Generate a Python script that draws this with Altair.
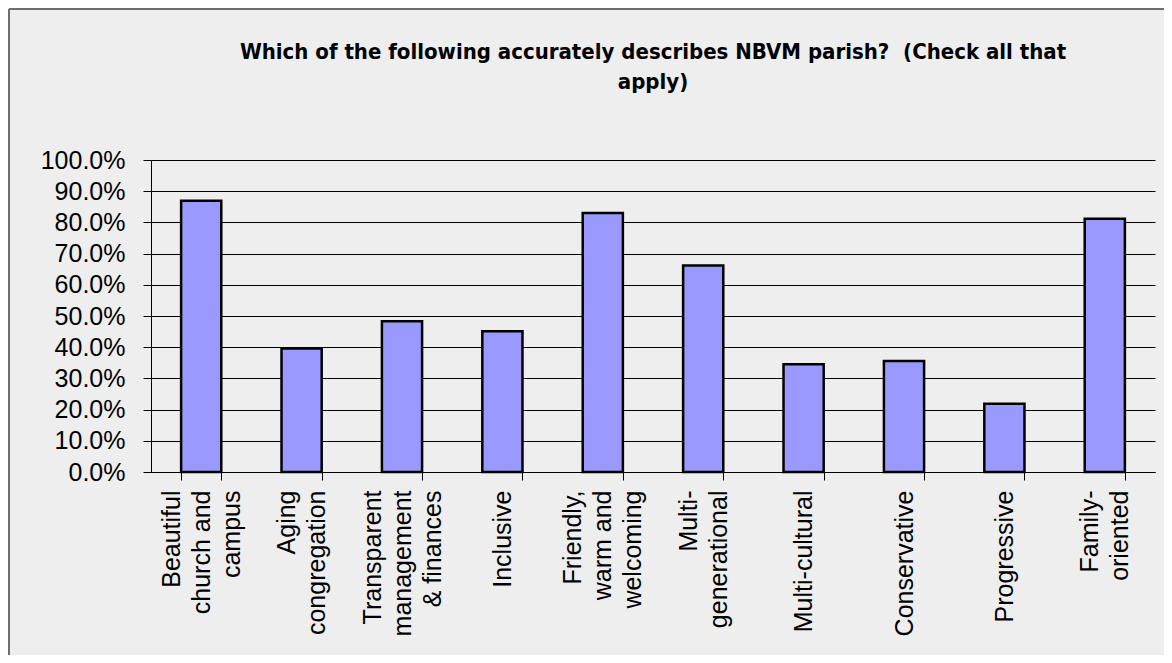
import altair as alt
import pandas as pd

categories = [
    "Beautiful|church and|campus",
    "Aging|congregation",
    "Transparent|management|& finances",
    "Inclusive",
    "Friendly,|warm and|welcoming",
    "Multi-|generational",
    "Multi-cultural",
    "Conservative",
    "Progressive",
    "Family-|oriented",
]
values = [0.869, 0.396, 0.483, 0.451, 0.830, 0.662, 0.345, 0.356, 0.219, 0.812]
y_ticks = [0.0, 0.1, 0.2, 0.3, 0.4, 0.5, 0.6, 0.7, 0.8, 0.9, 1.0]

df = pd.DataFrame({"category": categories, "value": values})

title_lines = ["Which of the following accurately describes NBVM parish?\u00a0 (Check all that", "apply)"]

bars = (
    alt.Chart(df)
    .mark_bar(fill="#9999FF", stroke="black", strokeWidth=2.5)
    .encode(
        x=alt.X(
            "category:N",
            sort=None,
            scale=alt.Scale(paddingInner=0.6, paddingOuter=0.3),
            axis=alt.Axis(
                title=None,
                labelAngle=-90,
                labelAlign="right",
                labelBaseline="middle",
                labelExpr="split(datum.label, '|')",
                labelOffset={"expr": "-(length(split(datum.label, '|')) - 1) * 15"},
                labelFontSize=25,
                labelLineHeight=30,
                labelFont="Liberation Sans",
                labelColor="black",
                labelPadding=10,
                labelLimit=300,
                tickBand="extent",
                tickSize=8,
                tickColor="black",
                domainColor="black",
                grid=False,
            ),
        ),
        y=alt.Y(
            "value:Q",
            scale=alt.Scale(domain=[0, 1], nice=False),
            axis=alt.Axis(
                title=None,
                values=y_ticks,
                format=".1%",
                labelFontSize=25,
                labelFont="Liberation Sans",
                labelColor="black",
                labelPadding=18,
                tickSize=8,
                tickColor="black",
                domainColor="black",
                grid=True,
                gridColor="black",
                gridWidth=1,
            ),
        ),
    )
)

frame_df = pd.DataFrame({"k": [0]})
top_edge = alt.Chart(frame_df).mark_rule(color="#6e6e6e", strokeWidth=2).encode(
    x=alt.value(-142), x2=alt.value(1013), y=alt.value(-151)
)
left_edge = alt.Chart(frame_df).mark_rule(color="#6e6e6e", strokeWidth=2).encode(
    x=alt.value(-142), y=alt.value(-151), y2=alt.value(495)
)

chart = (
    alt.layer(bars, top_edge, left_edge)
    .properties(
        width=1004,
        height=312,
        padding={"left": 143, "top": 152, "right": 9, "bottom": 183},
        autosize=alt.AutoSizeParams(type="none"),
        background="#EEEEEE",
        title=alt.TitleParams(
            text=title_lines,
            font="'Liberation Sans Narrow', 'DejaVu Sans Condensed', 'Liberation Sans'",
            fontSize=22,
            fontWeight="bold",
            color="black",
            anchor="middle",
            offset=-86,
            lineHeight=30,
        ),
    )
    .configure_view(stroke=None)
)

chart.save("out.html", embed_options={"renderer": "svg", "actions": False})
